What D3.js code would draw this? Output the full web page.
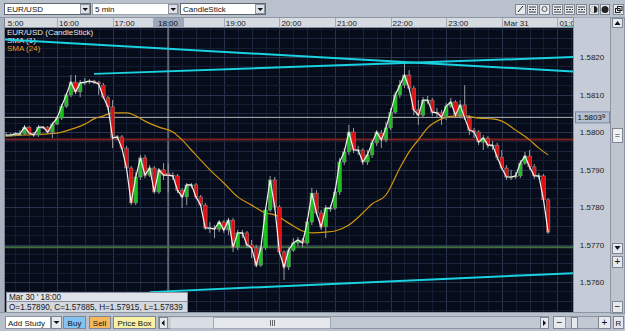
<!DOCTYPE html>
<html lang="en">
<head>
<meta charset="UTF-8">
<title>EUR/USD CandleStick</title>
<script src="https://cdnjs.cloudflare.com/ajax/libs/d3/7.8.5/d3.min.js"></script>
<style>
  body, html { margin: 0; padding: 0; background: #b9c1cd; }
  svg { display: block; font-family: "Liberation Sans", Arial, sans-serif; }
</style>
</head>
<body>
<svg width="625" height="331"></svg>
<script>
// 5 min candles, Mar 30 15:05 -> Mar 31 00:50
const startTime = new Date(2010, 2, 30, 15, 0);

const opens = [
  1.57992,1.57992,1.57992,1.57995,1.57995,1.58013,1.57997,1.57992,1.58013,1.58013,
  1.58000,1.58021,1.58037,1.58069,1.58099,1.58133,1.58107,1.58131,1.58133,1.58136,
  1.58133,1.58125,1.58091,1.58067,1.57984,1.57987,1.57957,1.57904,1.57811,1.57880,
  1.57931,1.57885,1.57904,1.57840,1.57899,1.57890,1.57885,1.57883,1.57845,1.57827,
  1.57859,1.57859,1.57827,1.57805,1.57744,1.57744,1.57741,1.57760,1.57739,1.57765,
  1.57693,1.57731,1.57731,1.57699,1.57691,1.57645,1.57691,1.57792,1.57872,1.57800,
  1.57680,1.57640,1.57685,1.57704,1.57712,1.57704,1.57760,1.57837,1.57784,1.57747,
  1.57797,1.57797,1.57840,1.57920,1.57947,1.58000,1.57952,1.57952,1.57920,1.57939,
  1.57971,1.57997,1.57979,1.58011,1.58053,1.58099,1.58125,1.58152,1.58117,1.58059,
  1.58045,1.58085,1.58085,1.58053,1.58051,1.58040,1.58069,1.58080,1.58045,1.58072,
  1.58037,1.58005,1.58000,1.57973,1.57984,1.57965,1.57965,1.57933,1.57904,1.57880,
  1.57880,1.57883,1.57917,1.57936,1.57907,1.57883,1.57883,1.57819
];
const highs = [
  1.58000,1.57997,1.58000,1.58005,1.58019,1.58016,1.58000,1.58019,1.58016,1.58016,
  1.58027,1.58043,1.58075,1.58104,1.58152,1.58152,1.58139,1.58144,1.58141,1.58139,
  1.58136,1.58131,1.58096,1.58085,1.57992,1.57992,1.57963,1.57909,1.57893,1.57939,
  1.57939,1.57912,1.57909,1.57904,1.57917,1.57915,1.57893,1.57888,1.57851,1.57864,
  1.57864,1.57864,1.57832,1.57811,1.57760,1.57752,1.57765,1.57765,1.57771,1.57771,
  1.57739,1.57739,1.57736,1.57712,1.57699,1.57696,1.57797,1.57883,1.57880,1.57805,
  1.57685,1.57693,1.57717,1.57720,1.57717,1.57771,1.57851,1.57845,1.57792,1.57805,
  1.57805,1.57851,1.57931,1.57957,1.58019,1.58011,1.57963,1.57957,1.57952,1.57979,
  1.58005,1.58005,1.58027,1.58064,1.58107,1.58139,1.58184,1.58165,1.58123,1.58085,
  1.58093,1.58096,1.58091,1.58064,1.58059,1.58077,1.58091,1.58085,1.58085,1.58125,
  1.58045,1.58011,1.58005,1.57992,1.57989,1.57976,1.57971,1.57952,1.57912,1.57899,
  1.57893,1.57925,1.57947,1.57952,1.57915,1.57891,1.57888,1.57824
];
const lows = [
  1.57987,1.57989,1.57989,1.57989,1.57992,1.57995,1.57987,1.57987,1.58008,1.57995,
  1.57984,1.58019,1.58032,1.58064,1.58093,1.58101,1.58093,1.58125,1.58128,1.58128,
  1.58099,1.58088,1.58059,1.57957,1.57979,1.57952,1.57899,1.57805,1.57805,1.57872,
  1.57877,1.57880,1.57835,1.57835,1.57872,1.57839,1.57872,1.57837,1.57797,1.57805,
  1.57851,1.57821,1.57800,1.57739,1.57731,1.57717,1.57733,1.57731,1.57725,1.57680,
  1.57685,1.57717,1.57691,1.57664,1.57640,1.57640,1.57685,1.57787,1.57792,1.57672,
  1.57605,1.57632,1.57680,1.57696,1.57693,1.57699,1.57752,1.57779,1.57739,1.57717,
  1.57787,1.57792,1.57832,1.57912,1.57939,1.57944,1.57939,1.57912,1.57912,1.57931,
  1.57963,1.57957,1.57973,1.58005,1.58048,1.58091,1.58117,1.58112,1.58045,1.58019,
  1.58037,1.58075,1.58043,1.58037,1.58019,1.58032,1.58064,1.58037,1.58037,1.58032,
  1.57992,1.57984,1.57965,1.57952,1.57957,1.57952,1.57925,1.57899,1.57872,1.57872,
  1.57875,1.57877,1.57912,1.57899,1.57875,1.57875,1.57813,1.57728
];
const closes = [
  1.57992,1.57992,1.57995,1.57995,1.58013,1.57997,1.57992,1.58013,1.58013,1.58000,
  1.58021,1.58037,1.58069,1.58099,1.58133,1.58107,1.58131,1.58133,1.58136,1.58133,
  1.58128,1.58093,1.58067,1.57984,1.57987,1.57957,1.57904,1.57811,1.57880,1.57931,
  1.57885,1.57904,1.57840,1.57899,1.57885,1.57885,1.57883,1.57845,1.57827,1.57859,
  1.57859,1.57827,1.57805,1.57744,1.57744,1.57741,1.57760,1.57739,1.57765,1.57693,
  1.57731,1.57731,1.57699,1.57691,1.57645,1.57691,1.57792,1.57872,1.57800,1.57680,
  1.57640,1.57685,1.57704,1.57712,1.57704,1.57760,1.57837,1.57784,1.57747,1.57797,
  1.57797,1.57840,1.57920,1.57947,1.58000,1.57952,1.57952,1.57920,1.57939,1.57971,
  1.58000,1.57979,1.58011,1.58053,1.58099,1.58125,1.58152,1.58117,1.58059,1.58045,
  1.58085,1.58085,1.58053,1.58051,1.58040,1.58069,1.58080,1.58045,1.58072,1.58037,
  1.58005,1.58000,1.57973,1.57984,1.57965,1.57965,1.57933,1.57904,1.57880,1.57880,
  1.57883,1.57917,1.57936,1.57907,1.57883,1.57883,1.57819,1.57733
];

// SMA (24) at some candle numbers
const smaCandle = [1,5,10,12,14,16,18,20,22,24,27,29,31,34,37,39,41,43,45,48,51,54,57,59,62,65,67,70,72,75,78,80,83,86,88,90,92,95,98,100,103,106,108,111,114,116,118];
const smaValues = [1.57989,1.57992,1.57995,1.57997,1.58003,1.58011,1.58021,1.58035,1.58043,1.58051,1.58051,1.58043,1.58029,1.58013,1.58000,1.57979,1.57952,1.57925,1.57899,1.57864,1.57827,1.57805,1.57784,1.57779,1.57757,1.57736,1.57731,1.57733,1.57736,1.57752,1.57784,1.57808,1.57832,1.57904,1.57947,1.57979,1.58011,1.58035,1.58043,1.58043,1.58037,1.58035,1.58029,1.58005,1.57979,1.57957,1.57939];

// drawn trend lines (cyan): [start time, start price, end time, end price]
const trendLines = [
  [new Date(2010, 2, 30, 15, 0), 1.58247, new Date(2010, 2, 31, 1, 20), 1.58161],
  [new Date(2010, 2, 30, 16, 40), 1.58155, new Date(2010, 2, 31, 1, 20), 1.58200],
  [new Date(2010, 2, 30, 17, 40), 1.57573, new Date(2010, 2, 31, 1, 20), 1.57624]
];

// horizontal levels
const levelPrices = [1.58039, 1.57980, 1.57693];
const levelColors = ["#b4b4b4", "#7c2222", "#3f6e40"];
const levelWidths = [1, 2, 2];

const priceTicks = [1.5760, 1.5770, 1.5780, 1.5790, 1.5800, 1.5810, 1.5820];
const lastPrice = 1.58039;
const hoverIndex = 35; // 18:00 candle

const times = closes.map((d, i) => d3.timeMinute.offset(startTime, 5 * (i + 1)));

const svg = d3.select("svg");
const W = 625, H = 331;
const plot = { left: 5, right: 573, top: 28, bottom: 312 };

const x = d3.scaleTime()
  .domain([startTime, new Date(2010, 2, 31, 1, 0)])
  .range([1.4, 557.4]);
const y = d3.scaleLinear().domain([1.5760, 1.5820]).range([282, 57]);

svg.append("rect").attr("width", W).attr("height", H).attr("fill", "#b9c1cd");

const defs = svg.append("defs");
defs.append("clipPath").attr("id", "clip").append("rect")
  .attr("x", plot.left).attr("y", plot.top)
  .attr("width", plot.right - plot.left).attr("height", plot.bottom - plot.top);
defs.append("clipPath").attr("id", "clipAxis").append("rect")
  .attr("x", 7.6).attr("y", 17).attr("width", plot.right - 7.6).attr("height", 11);

// plot background
svg.append("rect")
  .attr("x", plot.left).attr("y", plot.top)
  .attr("width", plot.right - plot.left).attr("height", plot.bottom - plot.top)
  .attr("fill", "#070c1b");

const g = svg.append("g").attr("clip-path", "url(#clip)");

// grid
const gridTimes = d3.timeMinute.range(startTime, new Date(2010, 2, 31, 1, 30), 15);
g.append("g").selectAll("line").data(gridTimes).join("line")
  .attr("x1", d => Math.round(x(d)) + 0.5).attr("x2", d => Math.round(x(d)) + 0.5)
  .attr("y1", plot.top).attr("y2", plot.bottom)
  .attr("stroke", d => d.getMinutes() === 0 ? "#28334d" : d.getMinutes() === 30 ? "#1c263e" : "#141d32");

const gridPrices = d3.range(0, 33).map(k => 1.5750 + k * 0.00025);
g.append("g").selectAll("line").data(gridPrices).join("line")
  .attr("x1", plot.left).attr("x2", plot.right)
  .attr("y1", d => Math.round(y(d)) + 0.5).attr("y2", d => Math.round(y(d)) + 0.5)
  .attr("stroke", d => {
    const u = Math.round(d * 40000);
    return u % 40 === 0 ? "#28334d" : u % 20 === 0 ? "#1c263e" : "#141d32";
  });

// crosshair at hovered candle
g.append("line")
  .attr("x1", x(times[hoverIndex])).attr("x2", x(times[hoverIndex]))
  .attr("y1", plot.top).attr("y2", plot.bottom)
  .attr("stroke", "#5d6475").attr("stroke-width", 2);

// horizontal levels
g.append("g").selectAll("line").data(levelPrices).join("line")
  .attr("x1", plot.left).attr("x2", plot.right)
  .attr("y1", d => y(d)).attr("y2", d => y(d))
  .attr("stroke", (d, i) => levelColors[i])
  .attr("stroke-width", (d, i) => levelWidths[i]);

// SMA (24)
const smaLine = d3.line()
  .x((d, i) => x(times[smaCandle[i] - 1]))
  .y(d => y(d))
  .curve(d3.curveMonotoneX);
g.append("path").datum(smaValues)
  .attr("d", smaLine)
  .attr("fill", "none").attr("stroke", "#cf960e").attr("stroke-width", 1.2);

// candles
const candles = g.append("g").selectAll("g").data(closes).join("g");
candles.append("line")
  .attr("x1", (d, i) => x(times[i])).attr("x2", (d, i) => x(times[i]))
  .attr("y1", (d, i) => y(highs[i])).attr("y2", (d, i) => y(lows[i]))
  .attr("stroke", "#9a9ca3").attr("stroke-width", 1);
candles.append("rect")
  .attr("x", (d, i) => x(times[i]) - 1.8)
  .attr("width", 3.6)
  .attr("y", (d, i) => y(Math.max(opens[i], closes[i])))
  .attr("height", (d, i) => Math.max(1, Math.abs(y(opens[i]) - y(closes[i]))))
  .attr("fill", (d, i) => closes[i] >= opens[i] ? "#18c21c" : "#e01010")
  .attr("stroke", "#8a8a8a").attr("stroke-width", 0.5);

// SMA (1) close line
g.append("path").datum(closes)
  .attr("d", d3.line().x((d, i) => x(times[i])).y(d => y(d)))
  .attr("fill", "none").attr("stroke", "#f2f2f2").attr("stroke-width", 1.2);

// legend
const legend = g.append("g").attr("font-size", 8).attr("fill", "#e8e8e8");
legend.append("text").attr("x", 7).attr("y", 35).text("EUR/USD (CandleStick)");
legend.append("text").attr("x", 7).attr("y", 43).text("SMA (1)");
legend.append("text").attr("x", 7).attr("y", 51).attr("fill", "#e0a020").text("SMA (24)");

// trend lines
g.append("g").selectAll("line").data(trendLines).join("line")
  .attr("x1", d => x(d[0])).attr("y1", d => y(d[1]))
  .attr("x2", d => x(d[2])).attr("y2", d => y(d[3]))
  .attr("stroke", "#1ad2df").attr("stroke-width", 2);

// info box for hovered candle
const fmt = d3.format(".5f");
const info = svg.append("g").attr("font-size", 8.2).attr("fill", "#1a1a1a");
info.append("rect").attr("x", 6.5).attr("y", 292.5).attr("width", 181).attr("height", 9)
  .attr("fill", "#dfe2e8").attr("stroke", "#8a92a0");
info.append("rect").attr("x", 6.5).attr("y", 301.5).attr("width", 181).attr("height", 11)
  .attr("fill", "#d3d7df").attr("stroke", "#8a92a0");
info.append("text").attr("x", 9).attr("y", 300).text("Mar 30 ' " + d3.timeFormat("%H:%M")(times[hoverIndex]));
info.append("text").attr("x", 9).attr("y", 310)
  .text(`O=${fmt(opens[hoverIndex])}, C=${fmt(closes[hoverIndex])}, H=${fmt(highs[hoverIndex])}, L=${fmt(lows[hoverIndex])}`);

// left border
svg.append("rect").attr("x", 0).attr("y", 17).attr("width", plot.left).attr("height", plot.bottom - 17).attr("fill", "#aab2be");
svg.append("line").attr("x1", plot.left - 0.5).attr("x2", plot.left - 0.5).attr("y1", 17).attr("y2", plot.bottom)
  .attr("stroke", "#7d8594");

// time axis row
svg.append("rect").attr("x", plot.left).attr("y", 17).attr("width", plot.right - plot.left).attr("height", 11)
  .attr("fill", "#d6dae1");
const axisRow = svg.append("g").attr("clip-path", "url(#clipAxis)");
const hoverTime = times[hoverIndex];
const hourTicks = d3.timeHour.range(startTime, new Date(2010, 2, 31, 2, 0));
axisRow.selectAll("line.sep").data(hourTicks).join("line")
  .attr("x1", d => Math.round(x(d)) + 0.5).attr("x2", d => Math.round(x(d)) + 0.5)
  .attr("y1", 17).attr("y2", 28).attr("stroke", "#a3aab6");
axisRow.selectAll("text").data(hourTicks.filter(d => +d !== +hoverTime)).join("text")
  .attr("x", d => x(d) + 2).attr("y", 25.5).attr("font-size", 8).attr("fill", "#222")
  .text(d => d.getHours() === 0 ? "Mar 31" : d3.timeFormat("%H:%M")(d));
// hovered time label
axisRow.append("rect").attr("x", 153).attr("y", 17.5).attr("width", 31).attr("height", 10).attr("fill", "#9ca8be");
axisRow.append("text").attr("x", 158).attr("y", 25.5).attr("font-size", 8).attr("fill", "#111")
  .text(d3.timeFormat("%H:%M")(hoverTime));
axisRow.append("rect").attr("x", 562).attr("y", 26.5).attr("width", 11).attr("height", 1.5).attr("fill", "#1aa6a8");
svg.append("line").attr("x1", 0).attr("x2", 611).attr("y1", 17.5).attr("y2", 17.5).attr("stroke", "#8d95a3");
svg.append("line").attr("x1", plot.left).attr("x2", plot.right).attr("y1", 27.5).attr("y2", 27.5).attr("stroke", "#8d95a3");

// price axis
svg.append("rect").attr("x", plot.right).attr("y", 17.5).attr("width", 37).attr("height", plot.bottom - 17.5)
  .attr("fill", "#c6ccd7");
svg.append("line").attr("x1", plot.right + 0.5).attr("x2", plot.right + 0.5).attr("y1", 17.5).attr("y2", plot.bottom)
  .attr("stroke", "#8a92a0");
svg.append("g").selectAll("text").data(priceTicks).join("text")
  .attr("x", 592).attr("y", d => y(d) + 3).attr("text-anchor", "middle")
  .attr("font-size", 8).attr("fill", "#222")
  .text(d => d3.format(".4f")(d));
svg.append("rect").attr("x", 575.5).attr("y", y(lastPrice) - 5.5).attr("width", 34).attr("height", 11)
  .attr("fill", "#b3bfd3").attr("stroke", "#7a88a2");
const lp = svg.append("text").attr("x", 577.5).attr("y", y(lastPrice) + 3)
  .attr("font-size", 8).attr("fill", "#111").text(d3.format(".5f")(lastPrice).slice(0, -1));
lp.append("tspan").attr("font-size", 6).attr("dy", -2).text(d3.format(".5f")(lastPrice).slice(-1));

// right scroll column
svg.append("rect").attr("x", 610.5).attr("y", 17.5).attr("width", 14).attr("height", 296)
  .attr("fill", "#bfc5cf").attr("stroke", "#8d95a3");
function button(px, py, w, h, fill) {
  svg.append("rect").attr("x", px + 0.5).attr("y", py + 0.5).attr("width", w).attr("height", h)
    .attr("fill", fill || "#e6e9ee").attr("stroke", "#7f8794");
}
function label(px, py, txt, size, color, anchor) {
  svg.append("text").attr("x", px).attr("y", py).attr("font-size", size || 8)
    .attr("fill", color || "#111").attr("text-anchor", anchor || "start").text(txt);
}
button(612, 18, 10, 9);
svg.append("path").attr("d", "M614.5,25 L617.5,21 L620.5,25 Z").attr("fill", "#111");
button(612, 128, 10, 14, "#eef0f3");
label(617.5, 138, "=", 9, "#333", "middle");
button(612, 243, 10, 10);
svg.append("path").attr("d", "M614.5,246 L620.5,246 L617.5,250 Z").attr("fill", "#111");
button(612, 256, 10, 11);
label(617.5, 265, "+", 10, "#111", "middle");
button(612, 301, 10, 11);
label(617.5, 310, "−", 10, "#111", "middle");

// top toolbar
function dropdown(px, w, txt, dashed) {
  svg.append("rect").attr("x", px + 0.5).attr("y", 3.5).attr("width", w).attr("height", 11)
    .attr("fill", "#fff").attr("stroke", "#5f6670")
    .attr("stroke-dasharray", dashed ? "1,1" : null);
  svg.append("rect").attr("x", px + w - 9.5).attr("y", 4.5).attr("width", 9).attr("height", 9)
    .attr("fill", "#dde1e7").attr("stroke", "#8d95a3");
  svg.append("path").attr("d", `M${px + w - 7.5},8 L${px + w - 2},8 L${px + w - 4.75},11 Z`).attr("fill", "#111");
  label(px + 3, 12, txt, 8);
}
dropdown(4, 86, "EUR/USD");
dropdown(92, 86, "5 min", true);
dropdown(180, 85, "CandleStick");

const iconXs = [515, 527, 539, 552, 564, 576];
iconXs.forEach((ix, k) => {
  button(ix, 4, 10, 10);
  if (k === 0) svg.append("line").attr("x1", ix + 3).attr("y1", 12).attr("x2", ix + 8).attr("y2", 6).attr("stroke", "#222");
  else if (k === 2) svg.append("circle").attr("cx", ix + 5.5).attr("cy", 9).attr("r", 2.5).attr("fill", "none").attr("stroke", "#555");
  else [0, 1, 2].forEach(r => svg.append("line").attr("x1", ix + 2).attr("x2", ix + 9)
    .attr("y1", 7 + r * 2.5).attr("y2", 7 + r * 2.5).attr("stroke", "#333")
    .attr("stroke-dasharray", r === 1 ? "2,1" : null));
});
[589, 600].forEach((ix, k) => {
  button(ix, 4, 9, 10);
  svg.append("circle").attr("cx", ix + 5).attr("cy", 9.5).attr("r", 3.5).attr("fill", "#222");
  if (k === 0) svg.append("path").attr("d", `M${ix + 5},6 A3.5,3.5 0 0 0 ${ix + 5},13 Z`).attr("fill", "#ddd");
});
button(613, 4, 10, 10);
svg.append("rect").attr("x", 615.5).attr("y", 8.5).attr("width", 4.5).attr("height", 4).attr("fill", "none").attr("stroke", "#222");
svg.append("rect").attr("x", 617.5).attr("y", 6.5).attr("width", 4.5).attr("height", 4).attr("fill", "none").attr("stroke", "#222");

// bottom toolbar
svg.append("line").attr("x1", 0).attr("x2", 611).attr("y1", 312.5).attr("y2", 312.5).attr("stroke", "#8d95a3");
svg.append("rect").attr("x", 5.5).attr("y", 316.5).attr("width", 45).attr("height", 12).attr("fill", "#fff").attr("stroke", "#8d95a3");
label(8, 325.5, "Add Study", 8);
button(51, 316, 10, 12);
svg.append("path").attr("d", "M53.5,321 L59.5,321 L56.5,324 Z").attr("fill", "#111");
button(63, 316, 22, 12, "#82c3f2");
label(74.5, 325.5, "Buy", 8, "#111", "middle");
button(89, 316, 21, 12, "#f5b85c");
label(99.5, 325.5, "Sell", 8, "#111", "middle");
button(113, 316, 42, 12, "#f7f2a6");
label(134.5, 325.5, "Price Box", 8, "#111", "middle");

// horizontal scrollbar
svg.append("rect").attr("x", 158.5).attr("y", 316.5).attr("width", 390).attr("height", 12).attr("fill", "#c3c9d3").attr("stroke", "#8d95a3");
button(159, 317, 8, 11);
svg.append("path").attr("d", "M164.5,320 L164.5,326 L161.5,323 Z").attr("fill", "#111");
svg.append("rect").attr("x", 170.5).attr("y", 317.5).attr("width", 160).attr("height", 11).attr("fill", "#d9dde4");
svg.append("rect").attr("x", 213.5).attr("y", 317.5).attr("width", 117).attr("height", 11).attr("fill", "#e4e7ec").attr("stroke", "#a0a7b2");
[270.5, 272.5, 274.5].forEach(gx => svg.append("line").attr("x1", gx).attr("x2", gx).attr("y1", 320).attr("y2", 326).attr("stroke", "#666"));
button(540, 317, 8, 11);
svg.append("path").attr("d", "M543,320 L543,326 L546,323 Z").attr("fill", "#111");

button(553, 316, 12, 12);
label(559.5, 325.5, "−", 10, "#111", "middle");
svg.append("rect").attr("x", 565.5).attr("y", 316.5).attr("width", 33).attr("height", 12).attr("fill", "#c3c9d3").attr("stroke", "#8d95a3");
button(571, 317, 6, 11);
button(598, 316, 12, 12);
label(604.5, 326, "+", 10, "#111", "middle");
button(613, 316, 10, 12);
label(618.5, 325.5, "R", 8, "#111", "middle");
</script>
</body>
</html>
